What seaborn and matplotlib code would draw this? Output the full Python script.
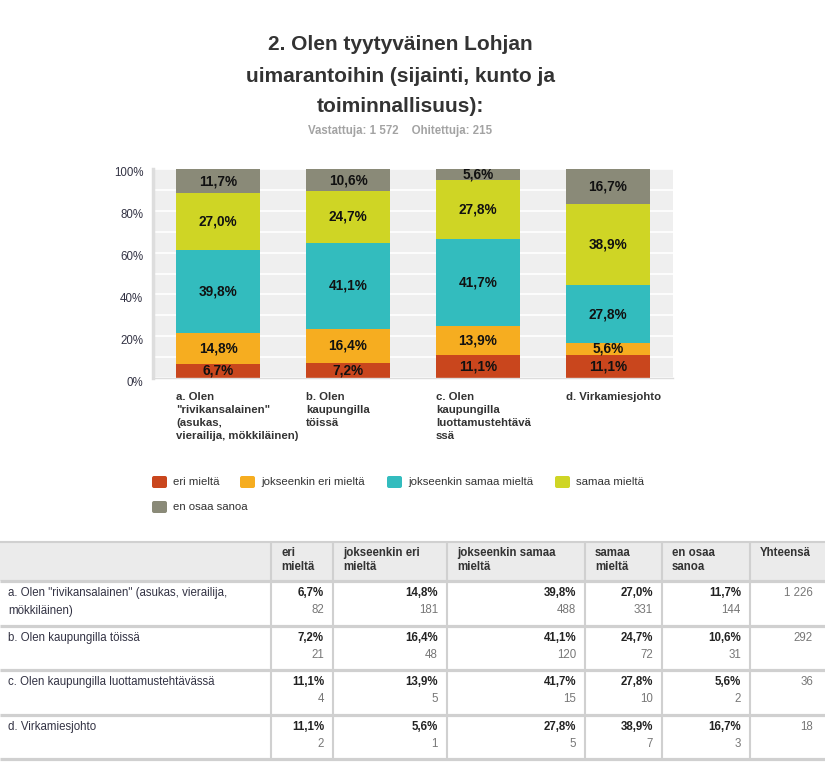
import numpy as np
import pandas as pd
import seaborn as sns
import matplotlib.pyplot as plt
import matplotlib.transforms as mtransforms
from matplotlib.patches import FancyBboxPatch, Rectangle
from matplotlib.ticker import MultipleLocator

# Chart data
title_lines = ['2. Olen tyytyväinen Lohjan', 'uimarantoihin (sijainti, kunto ja', 'toiminnallisuus):']
subtitle = 'Vastattuja: 1 572    Ohitettuja: 215'
groups = ['a', 'b', 'c', 'd']
group_labels = ['a. Olen\n"rivikansalainen"\n(asukas,\nvierailija, mökkiläinen)',
                'b. Olen\nkaupungilla\ntöissä',
                'c. Olen\nkaupungilla\nluottamustehtävä\nssä',
                'd. Virkamiesjohto']
answers = ['eri mieltä', 'jokseenkin eri mieltä', 'jokseenkin samaa mieltä', 'samaa mieltä', 'en osaa sanoa']
colors = ['#c9461d', '#f6ad20', '#33bcbe', '#cfd525', '#8a8a78']
y_ticks = [0, 20, 40, 60, 80, 100]

# percentages per answer (rows a-d)
pct_eri = [6.7, 7.2, 11.1, 11.1]
pct_jok_eri = [14.8, 16.4, 13.9, 5.6]
pct_jok_samaa = [39.8, 41.1, 41.7, 27.8]
pct_samaa = [27.0, 24.7, 27.8, 38.9]
pct_en_osaa = [11.7, 10.6, 5.6, 16.7]

# counts per answer (rows a-d)
n_eri = [82, 21, 4, 2]
n_jok_eri = [181, 48, 5, 1]
n_jok_samaa = [488, 120, 15, 5]
n_samaa = [331, 72, 10, 7]
n_en_osaa = [144, 31, 2, 3]
totals = [1226, 292, 36, 18]

row_labels = ['a. Olen "rivikansalainen" (asukas, vierailija,\nmökkiläinen)',
              'b. Olen kaupungilla töissä',
              'c. Olen kaupungilla luottamustehtävässä',
              'd. Virkamiesjohto']
header_labels = ['eri\nmieltä', 'jokseenkin eri\nmieltä', 'jokseenkin samaa\nmieltä',
                 'samaa\nmieltä', 'en osaa\nsanoa', 'Yhteensä']

pcts = [pct_eri, pct_jok_eri, pct_jok_samaa, pct_samaa, pct_en_osaa]
counts = [n_eri, n_jok_eri, n_jok_samaa, n_samaa, n_en_osaa]


def fmt_pct(v):
    return f'{v:.1f}%'.replace('.', ',')


df = pd.DataFrame({'group': groups})
for ans, vals in zip(answers, pcts):
    df[ans] = vals
cum = df[answers].cumsum(axis=1)

sns.set_theme(style='white')
plt.rcParams['font.family'] = ['Liberation Sans', 'DejaVu Sans']

W, H = 825, 764
fig = plt.figure(figsize=(W / 100, H / 100), dpi=100)
ax = fig.add_axes([153 / W, 1 - 378 / H, 520 / W, 209 / H])
ov = fig.add_axes([0, 0, 1, 1], zorder=-1)
ov.set_xlim(0, W)
ov.set_ylim(H, 0)
ov.axis('off')

# stacked bars: draw cumulative totals from top layer down
bar_w = 84 / 130
for ans, col in reversed(list(zip(answers, colors))):
    sns.barplot(x=df['group'], y=cum[ans].clip(upper=100), color=col, width=bar_w,
                saturation=1, ax=ax, zorder=2, linewidth=0)

for i in range(len(groups)):
    bottom = 0
    for ans in answers:
        v = df.loc[i, ans]
        ax.text(i, bottom + v / 2, fmt_pct(v), ha='center', va='center',
                fontsize=9.8, fontweight='bold', color='#111111', zorder=3)
        bottom += v

ax.set_xlim(-0.5, len(groups) - 0.5)
ax.set_facecolor('#efefef')
ax.set_yticks(y_ticks)
ax.set_yticklabels([f'{t}%' for t in y_ticks], fontsize=8.3, color='#333344')
ax.yaxis.set_minor_locator(MultipleLocator(10))
ax.set_ylim(0, 100)
ax.grid(axis='y', which='both', color='white', linewidth=1.2, zorder=0)
ax.set_axisbelow(True)
ax.tick_params(axis='y', which='both', length=0, pad=7)
shift = mtransforms.ScaledTranslation(0, -3 / 100, fig.dpi_scale_trans)
for lbl in ax.get_yticklabels():
    lbl.set_transform(lbl.get_transform() + shift)
ax.set_xticks([])
ax.set_xlabel('')
ax.set_ylabel('')
for s in ['top', 'right']:
    ax.spines[s].set_visible(False)
ax.spines['left'].set_color('#dddddd')
ax.spines['left'].set_linewidth(2.5)
ax.spines['bottom'].set_color('#dcdcdc')
ax.spines['bottom'].set_linewidth(1)

# category labels below the bars
blend = mtransforms.blended_transform_factory(ax.transData, ov.transData)
for i, lab in enumerate(group_labels):
    ax.text(i - bar_w / 2, 392, lab, transform=blend, ha='left', va='top', fontsize=8.2,
            fontweight='bold', color='#333333', linespacing=1.38)

# title
for k, line in enumerate(title_lines):
    ov.text(400, 45 + 31 * k, line, ha='center', va='center', fontsize=15,
            fontweight='bold', color='#333333')
ov.text(400, 131, subtitle, ha='center', va='center', fontsize=8.3, fontweight='bold',
        color='#a3a3a3')

# legend
leg_pos = [(152, 482), (240, 482), (387, 482), (555, 482), (152, 507)]
for (lx, ly), ans, col in zip(leg_pos, answers, colors):
    ov.add_patch(FancyBboxPatch((lx + 1, ly - 5), 13, 10, boxstyle='round,pad=1,rounding_size=2',
                                facecolor=col, edgecolor='none'))
    ov.text(lx + 21, ly, ans, ha='left', va='center', fontsize=8.2, color='#333333')

# table
col_edges = [0, 271, 333, 447, 585, 662, 750, 825]
row_edges = [581, 626, 670, 715, 759]
line_col = '#d0d0d0'
ov.add_patch(Rectangle((0, 542), W, 581 - 542, facecolor='#ebebeb', edgecolor='none'))
ov.plot([0, W], [542, 542], color=line_col, lw=1.5, solid_capstyle='butt')
for y in row_edges:
    ov.plot([0, W], [y, y], color=line_col, lw=2.3, solid_capstyle='butt')
for x in col_edges[1:-1]:
    ov.plot([x, x], [542, 759], color=line_col, lw=1.5, solid_capstyle='butt')

for j, lab in enumerate(header_labels):
    ov.text(col_edges[j + 1] + 10, 547, lab, ha='left', va='top', fontsize=8.3,
            fontweight='bold', color='#333333', linespacing=1.25)

for i, lab in enumerate(row_labels):
    top = row_edges[i]
    ov.text(8, top + 6, lab, ha='left', va='top', fontsize=8.3, color='#333344', linespacing=1.65)
    for j in range(len(answers)):
        xr = col_edges[j + 2] - 9
        ov.text(xr, top + 6, fmt_pct(pcts[j][i]), ha='right', va='top',
                fontsize=8.3, fontweight='bold', color='#222222')
        ov.text(xr, top + 23, str(counts[j][i]), ha='right', va='top', fontsize=8.3,
                color='#777777')
    ov.text(813, top + 6, f'{totals[i]:,}'.replace(',', ' '), ha='right', va='top',
            fontsize=8.3, color='#777777')

fig.savefig('out.png', dpi=100, facecolor='white')
